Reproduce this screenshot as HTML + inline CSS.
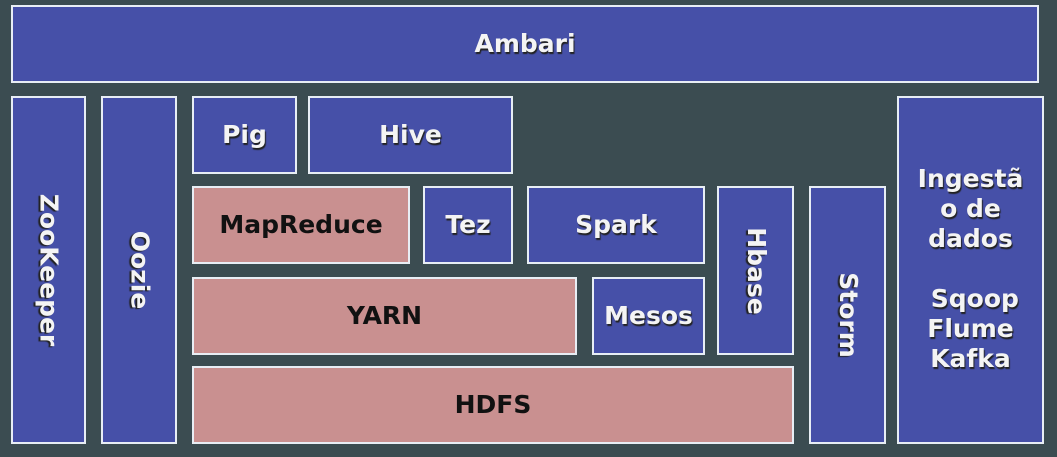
<!DOCTYPE html>
<html><head><style>
body{margin:0;width:1057px;height:457px;background:#3b4c51;overflow:hidden;font-family:"DejaVu Sans","Liberation Sans",sans-serif;}
.b{position:absolute;box-sizing:border-box;border:2px solid #e8eef5;background:#4650a8;display:flex;align-items:center;justify-content:center;color:#f4f4f4;font-weight:bold;font-size:25px;text-shadow:1px 2px 1px #222;text-align:center;line-height:30px}
.p{background:#c99090;color:#111;text-shadow:none}
.v span{transform:rotate(90deg);white-space:nowrap;display:block}
</style></head><body>
<div class="b" style="left:11px;top:5px;width:1028px;height:78px">Ambari</div>
<div class="b v" style="left:11px;top:96px;width:75px;height:348px"><span>ZooKeeper</span></div>
<div class="b v" style="left:101px;top:96px;width:76px;height:348px"><span>Oozie</span></div>
<div class="b" style="left:192px;top:96px;width:105px;height:78px">Pig</div>
<div class="b" style="left:308px;top:96px;width:205px;height:78px">Hive</div>
<div class="b p" style="left:192px;top:186px;width:218px;height:78px">MapReduce</div>
<div class="b" style="left:423px;top:186px;width:90px;height:78px">Tez</div>
<div class="b" style="left:527px;top:186px;width:178px;height:78px">Spark</div>
<div class="b v" style="left:717px;top:186px;width:77px;height:169px"><span>Hbase</span></div>
<div class="b v" style="left:809px;top:186px;width:77px;height:258px"><span>Storm</span></div>
<div class="b" style="left:897px;top:96px;width:147px;height:348px;align-items:flex-start;padding-top:66px"><div>Ingestã<br>o de<br>dados<br><br>&nbsp;Sqoop<br>Flume<br>Kafka</div></div>
<div class="b p" style="left:192px;top:277px;width:385px;height:78px">YARN</div>
<div class="b" style="left:592px;top:277px;width:113px;height:78px">Mesos</div>
<div class="b p" style="left:192px;top:366px;width:602px;height:78px">HDFS</div>
</body></html>
